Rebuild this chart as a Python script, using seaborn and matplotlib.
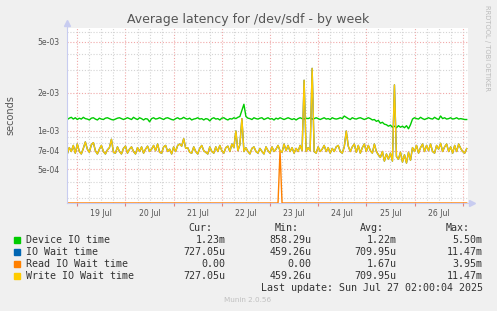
import numpy as np
import pandas as pd
import matplotlib
matplotlib.use("Agg")
import matplotlib.pyplot as plt
import seaborn as sns
from matplotlib.ticker import FixedLocator, FixedFormatter, MultipleLocator, FuncFormatter, NullFormatter
from matplotlib.patches import Rectangle

# ---------------- data (hourly, microseconds), start Jul 18 19:00 ----------------
start_hour = -5  # hours relative to Jul 19 00:00
device_io = [
    1230,1260,1280,1240,1270,1230,1260,1240,1280,1250,
    1240,1220,1260,1270,1240,1220,1260,1240,1230,1260,
    1270,1250,1230,1220,1240,1260,1270,1250,1230,1250,
    1270,1250,1230,1280,1250,1230,1270,1250,1220,1250,
    1240,1180,1250,1270,1240,1250,1270,1250,1230,1260,
    1270,1250,1230,1220,1250,1270,1240,1250,1280,1250,
    1240,1260,1220,1240,1250,1270,1240,1250,1220,1250,
    1240,1200,1250,1270,1240,1250,1220,1260,1270,1240,
    1220,1250,1240,1270,1250,1280,1300,1450,1620,1300,
    1260,1250,1230,1270,1250,1240,1260,1270,1230,1250,
    1270,1240,1250,1220,1260,1240,1270,1250,1230,1250,
    1270,1250,1230,1250,1220,1250,1270,1250,1240,1260,
    1250,1270,1240,1250,1270,1250,1230,1250,1270,1240,
    1250,1230,1270,1250,1240,1250,1270,1250,1310,1280,
    1250,1230,1270,1250,1240,1260,1270,1250,1230,1250,
    1270,1250,1220,1230,1190,1210,1150,1170,1130,1120,
    1090,1110,1070,1090,1060,1100,1070,1090,1060,1100,
    1040,1120,1240,1270,1250,1240,1280,1250,1230,1250,
    1270,1250,1240,1280,1250,1230,1310,1250,1270,1240,
    1250,1270,1240,1250,1270,1240,1250,1240,1230,1230,
]
write_io_wait = [
    660,740,690,770,670,790,690,660,730,820,
    720,680,780,810,700,660,720,770,690,660,
    710,740,860,680,670,750,690,660,730,760,
    670,720,750,690,660,740,690,750,670,720,
    760,690,720,770,700,790,680,670,750,770,
    690,720,660,750,690,770,790,760,870,730,
    740,680,670,750,690,660,730,770,700,680,
    660,750,690,670,750,690,770,700,670,740,
    760,690,790,740,1000,700,780,1250,690,740,
    690,660,730,750,690,670,730,690,660,750,
    700,670,750,690,720,770,700,680,790,700,
    770,690,740,670,730,690,770,700,2500,690,
    740,700,3100,690,670,750,690,720,770,690,
    740,670,730,690,750,770,690,670,750,1000,
    760,690,750,790,680,770,670,740,790,690,
    770,700,670,790,690,650,620,690,580,660,
    600,670,580,2300,630,600,680,570,650,560,
    680,590,740,690,770,670,740,790,690,770,
    700,790,690,670,770,720,800,690,750,790,
    690,750,670,770,690,790,730,690,670,727,
]
io_wait = list(write_io_wait)
read_io_wait = [0] * 200
read_io_wait[106] = 700

series_names = ["Device IO time", "IO Wait time", "Read IO Wait time", "Write IO Wait time"]
series_colors = ["#00CC00", "#0066B3", "#FF8000", "#FFCC00"]
day_labels = ["19 Jul", "20 Jul", "21 Jul", "22 Jul", "23 Jul", "24 Jul", "25 Jul", "26 Jul"]
ytick_values = [5e-4, 7e-4, 1e-3, 2e-3, 5e-3]
ytick_labels = ["5e-04", "7e-04", "1e-03", "2e-03", "5e-03"]
yminor_values = [3e-4, 4e-4, 6e-4, 8e-4, 9e-4, 3e-3, 4e-3, 6e-3]
stats_cur = ["1.23m", "727.05u", "0.00", "727.05u"]
stats_min = ["858.29u", "459.26u", "0.00", "459.26u"]
stats_avg = ["1.22m", "709.95u", "1.67u", "709.95u"]
stats_max = ["5.50m", "11.47m", "3.95m", "11.47m"]

# ---------------- figure ----------------
W, H = 497, 311
fig = plt.figure(figsize=(W / 100, H / 100), dpi=100, facecolor="#F0F0F0")
px_l, px_r, px_t, px_b = 67, 467.5, 28, 203
ax = fig.add_axes([px_l / W, 1 - px_b / H, (px_r - px_l) / W, (px_b - px_t) / H])
ax.set_facecolor("white")

ymin, ymax = 2.72e-4, 6.43e-3
n = len(device_io)
t_days = (np.arange(n) + start_hour) / 24.0
all_vals = [device_io, io_wait, read_io_wait, write_io_wait]
frames = []
for name, vals in zip(series_names, all_vals):
    v = np.array(vals, dtype=float) * 1e-6
    v = np.maximum(v, ymin)  # zero values drawn along the bottom edge like rrdtool
    frames.append(pd.DataFrame({"t": t_days, "v": v, "series": name}))
df = pd.concat(frames, ignore_index=True)

ax.set_yscale("log")
sns.lineplot(data=df, x="t", y="v", hue="series", hue_order=series_names,
             palette=dict(zip(series_names, series_colors)), linewidth=1.0,
             errorbar=None, legend=False, ax=ax)

ax.set_xlim(-0.214, 8.10)
ax.set_ylim(ymin, ymax)
ax.set_xlabel("")
ax.set_ylabel("")

# grid
major_c = "#F0A8A8"
minor_c = "#D4D4D4"
dot = (0, (1, 1.6))
for d in range(0, 9):
    ax.axvline(d, color=major_c, lw=0.8, ls=dot, zorder=0.5)
for q in np.arange(-0.0, 8.1, 0.25):
    if abs(q - round(q)) > 1e-6 and -0.214 < q < 8.10:
        ax.axvline(q, color=minor_c, lw=0.8, ls=dot, zorder=0.5)
for yv in ytick_values:
    ax.axhline(yv, color=major_c, lw=0.8, ls=dot, zorder=0.5)
for yv in yminor_values:
    ax.axhline(yv, color=minor_c, lw=0.8, ls=dot, zorder=0.5)

# ticks
ax.yaxis.set_major_locator(FixedLocator(ytick_values))
ax.yaxis.set_major_formatter(FixedFormatter(ytick_labels))
ax.yaxis.set_minor_locator(FixedLocator([]))
ax.yaxis.set_minor_formatter(NullFormatter())
ax.xaxis.set_major_locator(MultipleLocator(1))
ax.xaxis.set_major_formatter(NullFormatter())
ax.xaxis.set_minor_locator(MultipleLocator(0.25))

def minor_fmt(x, pos):
    frac = x - np.floor(x)
    i = int(np.floor(x))
    if abs(frac - 0.5) < 1e-6 and 0 <= i < len(day_labels):
        return day_labels[i]
    return ""

ax.xaxis.set_minor_formatter(FuncFormatter(minor_fmt))
ax.tick_params(axis="x", which="major", length=2, color="#E08080", width=0.8)
ax.tick_params(axis="x", which="minor", length=0, pad=4.2, labelsize=5.6, labelcolor="#555555")
ax.tick_params(axis="y", which="major", length=0, pad=5.5, labelsize=5.6, labelcolor="#555555")

for s in ["top", "right"]:
    ax.spines[s].set_visible(False)
ax.spines["left"].set_color("#C8CCF0")
ax.spines["bottom"].set_color("#C8CCF0")
ax.spines["left"].set_linewidth(0.8)
ax.spines["bottom"].set_linewidth(0.8)
ax.spines["bottom"].set_zorder(0.4)
# axis arrows
ax.plot([0], [1.03], marker="^", color="#C8CCF0", ms=4, transform=ax.transAxes, clip_on=False)
ax.plot([1.01], [0], marker=">", color="#C8CCF0", ms=4, transform=ax.transAxes, clip_on=False)
ax.plot([0, 0], [1.0, 1.03], color="#C8CCF0", lw=0.8, transform=ax.transAxes, clip_on=False)

def ftext(x, y, s, **kw):
    fig.text(x / W, 1 - y / H, s, **kw)

ftext(248, 19.5, "Average latency for /dev/sdf - by week", ha="center", va="center",
      fontsize=9, color="#555555")
ftext(10, 115, "seconds", ha="center", va="center", rotation=90, fontsize=7, color="#555555")
ftext(487, 5, "RRDTOOL / TOBI OETIKER", ha="center", va="top", rotation=270,
      fontsize=4.9, color="#BBBBBB")

mono = dict(family="DejaVu Sans Mono", fontsize=7.2, color="#333333", va="center")
ftext(212.7, 227.7, "Cur:", ha="right", **mono)
ftext(299, 227.7, "Min:", ha="right", **mono)
ftext(384, 227.7, "Avg:", ha="right", **mono)
ftext(470, 227.7, "Max:", ha="right", **mono)
for k in range(4):
    y = 239.7 + 12 * k
    fig.add_artist(Rectangle((14 / W, 1 - (y + 3) / H), 6 / W, 6 / H,
                             transform=fig.transFigure, color=series_colors[k]))
    ftext(26.3, y, series_names[k], ha="left", **mono)
    ftext(225.7, y, stats_cur[k], ha="right", **mono)
    ftext(311.7, y, stats_min[k], ha="right", **mono)
    ftext(396.7, y, stats_avg[k], ha="right", **mono)
    ftext(482.7, y, stats_max[k], ha="right", **mono)
ftext(482.7, 287.7, "Last update: Sun Jul 27 02:00:04 2025", ha="right", **mono)
ftext(248, 300, "Munin 2.0.56", ha="center", va="center", fontsize=5.2, color="#C0C0C0")

fig.savefig("out.png", dpi=100, facecolor=fig.get_facecolor())
